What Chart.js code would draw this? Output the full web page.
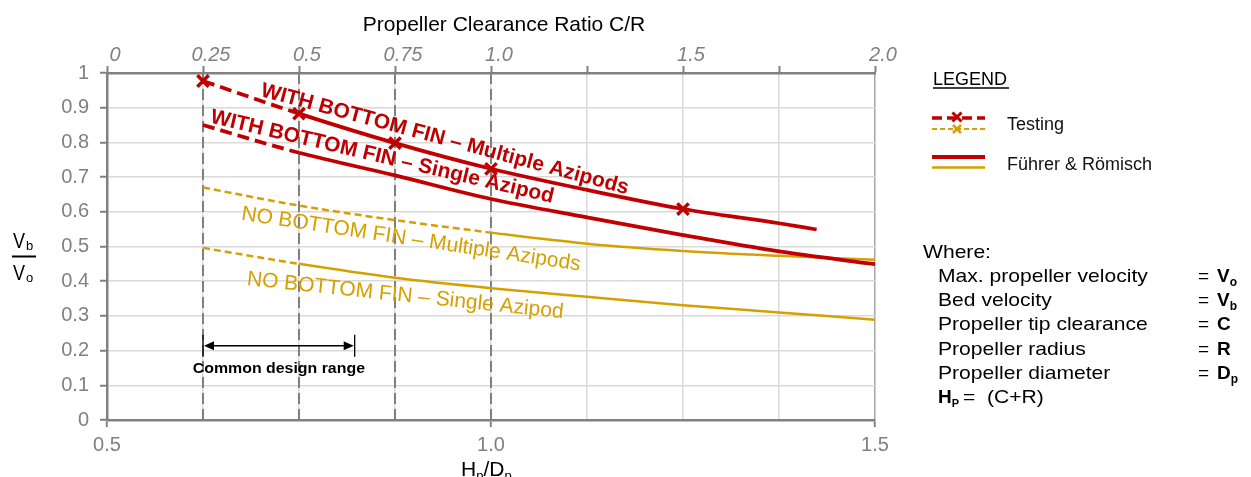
<!DOCTYPE html>
<html lang="en">
<head>
<meta charset="UTF-8">
<title>Bed velocity vs propeller clearance</title>
<script src="https://cdn.jsdelivr.net/npm/chart.js"></script>
<style>
  html, body { margin: 0; padding: 0; background: #fff; }
  #chart-container { position: relative; width: 1251px; height: 477px; }
</style>
</head>
<body>
<div id="chart-container"><canvas id="clearanceChart"></canvas></div>
<script>
// x = Hp/Dp, y = Vb/Vo
const hd = [0.625, 0.75, 0.875, 1.0, 1.125, 1.25, 1.375, 1.5];
const finMultiX = [0.625, 0.75, 0.875, 1.0, 1.125, 1.25, 1.375, 1.424];
const finMulti = [0.977, 0.883, 0.798, 0.724, 0.663, 0.608, 0.567, 0.549];
const finSingle = [0.850, 0.770, 0.705, 0.637, 0.584, 0.533, 0.486, 0.449];
const noFinMulti = [0.670, 0.618, 0.576, 0.540, 0.508, 0.487, 0.473, 0.462];
const noFinSingle = [0.496, 0.450, 0.410, 0.380, 0.355, 0.331, 0.310, 0.289];

// test results (crosses)
const testX = [0.625, 0.75, 0.875, 1.0, 1.25];
const testY = [0.977, 0.883, 0.798, 0.724, 0.608];

// the dashed (testing) part of each curve ends here
const dashEnd = [0.75, 0.75, 1.0, 0.75];

const designLines = [0.625, 0.75, 0.875, 1.0];
const designRange = [0.625, 0.8225];
const designRangeY = 0.214;

const bottomTicks = [0.5, 1.0, 1.5];
const bottomTickText = ['0.5', '1.0', '1.5'];
const topTicks = [0, 0.25, 0.5, 0.75, 1.0, 1.5, 2.0];
const topTickText = ['0', '0.25', '0.5', '0.75', '1.0', '1.5', '2.0'];

const curveNames = [
  'WITH BOTTOM FIN \u2013 Multiple Azipods',
  'WITH BOTTOM FIN \u2013 Single Azipod',
  'NO BOTTOM FIN \u2013 Multiple Azipods',
  'NO BOTTOM FIN \u2013 Single Azipod'
];

const whereRows = [
  ['Max. propeller velocity', 'V', 'o'],
  ['Bed velocity', 'V', 'b'],
  ['Propeller tip clearance', 'C', ''],
  ['Propeller radius', 'R', ''],
  ['Propeller diameter', 'D', 'p']
];

const RED = '#c00000';
const GOLD = '#d6a000';
const GREY = '#808080';
const FONT = '"Liberation Sans", Arial, sans-serif';

// label placement (start of baseline, in data units) and slope
const labelPos = [
  { x: 0.699, y: 0.934, angle: 15, color: RED, bold: true },
  { x: 0.6336, y: 0.857, angle: 13.2, color: RED, bold: true },
  { x: 0.674, y: 0.577, angle: 8.5, color: GOLD, bold: false },
  { x: 0.6815, y: 0.389, angle: 6, color: GOLD, bold: false }
];

const pts = (xs, ys) => xs.map((x, i) => ({ x: x, y: ys[i] }));

function curve(label, xs, ys, color, width, dash, end) {
  return {
    label: label,
    data: pts(xs, ys),
    borderColor: color,
    borderWidth: width,
    pointRadius: 0,
    fill: false,
    cubicInterpolationMode: 'monotone',
    segment: {
      borderDash: c => (c.p1.parsed.x <= end + 1e-6 ? dash : [])
    }
  };
}

function text(ctx, s, x, y, o) {
  ctx.save();
  ctx.font = o.font;
  ctx.fillStyle = o.color || '#000';
  ctx.textAlign = o.align || 'left';
  ctx.textBaseline = 'alphabetic';
  ctx.translate(x, y);
  if (o.angle) ctx.rotate(o.angle * Math.PI / 180);
  ctx.scale(o.sx || 1, 1);
  ctx.fillText(s, 0, 0);
  const w = ctx.measureText(s).width * (o.sx || 1);
  ctx.restore();
  return w;
}

function line(ctx, x1, y1, x2, y2, color, width, dash) {
  ctx.save();
  ctx.strokeStyle = color;
  ctx.lineWidth = width;
  ctx.setLineDash(dash || []);
  ctx.beginPath();
  ctx.moveTo(x1, y1);
  ctx.lineTo(x2, y2);
  ctx.stroke();
  ctx.restore();
}

function cross(ctx, x, y, r, color, width) {
  line(ctx, x - r, y - r, x + r, y + r, color, width);
  line(ctx, x - r, y + r, x + r, y - r, color, width);
}

const decor = {
  id: 'decor',
  beforeDatasetsDraw(chart) {
    const { ctx, chartArea: a, scales: { x } } = chart;
    designLines.forEach(v => {
      const px = Math.round(x.getPixelForValue(v));
      line(ctx, px, a.top, px, a.bottom, GREY, 2, [11, 5]);
    });
  },
  afterDatasetsDraw(chart) {
    const { ctx, scales: { x, y } } = chart;
    labelPos.forEach((p, i) => {
      text(ctx, curveNames[i], x.getPixelForValue(p.x), y.getPixelForValue(p.y), {
        font: (p.bold ? 'bold ' : '') + '21px ' + FONT,
        color: p.color,
        angle: p.angle
      });
    });

    // common design range arrow
    const x1 = x.getPixelForValue(designRange[0]);
    const x2 = x.getPixelForValue(designRange[1]);
    const ay = y.getPixelForValue(designRangeY);
    line(ctx, x1, ay - 11, x1, ay + 11, '#000', 1.3);
    line(ctx, x2, ay - 11, x2, ay + 11, '#000', 1.3);
    line(ctx, x1 + 4, ay, x2 - 4, ay, '#000', 1.3);
    ctx.save();
    ctx.fillStyle = '#000';
    ctx.beginPath();
    ctx.moveTo(x1 + 1, ay); ctx.lineTo(x1 + 11, ay - 4.5); ctx.lineTo(x1 + 11, ay + 4.5); ctx.closePath();
    ctx.moveTo(x2 - 1, ay); ctx.lineTo(x2 - 11, ay - 4.5); ctx.lineTo(x2 - 11, ay + 4.5); ctx.closePath();
    ctx.fill();
    ctx.restore();
    text(ctx, 'Common design range', (x1 + x2) / 2, ay + 27, {
      font: 'bold 15px ' + FONT, align: 'center', sx: 1.06
    });
  },
  afterDraw(chart) {
    const { ctx, chartArea: a } = chart;
    const mid = (a.left + a.right) / 2;

    // axis titles
    text(ctx, 'Propeller Clearance Ratio C/R', mid + 13, 31, { font: '21px ' + FONT, align: 'center' });

    let w = text(ctx, 'H', 461, 476, { font: '21px ' + FONT });
    w += text(ctx, 'p', 461 + w, 480, { font: '13px ' + FONT });
    w += text(ctx, '/D', 461 + w, 476, { font: '21px ' + FONT });
    text(ctx, 'p', 461 + w, 480, { font: '13px ' + FONT });

    text(ctx, 'V', 13, 248, { font: '22px ' + FONT, sx: 0.82 });
    text(ctx, 'b', 26, 250, { font: '13px ' + FONT });
    line(ctx, 12, 256.5, 36, 256.5, '#000', 2);
    text(ctx, 'V', 13, 280, { font: '22px ' + FONT, sx: 0.82 });
    text(ctx, 'o', 26, 282, { font: '13px ' + FONT });

    // legend
    const lf = '18px ' + FONT;
    text(ctx, 'LEGEND', 933, 85, { font: lf });
    line(ctx, 933, 88, 1009, 88, '#000', 1.5);
    line(ctx, 932, 118, 985, 118, RED, 3.5, [10, 5]);
    cross(ctx, 957, 117, 4.5, RED, 3);
    line(ctx, 932, 129, 985, 129, GOLD, 2, [5, 3]);
    cross(ctx, 957, 129, 4, GOLD, 2.5);
    text(ctx, 'Testing', 1007, 130, { font: lf, color: '#111' });
    line(ctx, 932, 157, 985, 157, RED, 4);
    line(ctx, 932, 167.5, 985, 167.5, GOLD, 2.5);
    text(ctx, 'F\u00fchrer & R\u00f6misch', 1007, 170, { font: lf, color: '#111' });

    // where block
    const wf = '19px ' + FONT;
    const bf = 'bold 19px ' + FONT;
    const sf = 'bold 12px ' + FONT;
    text(ctx, 'Where:', 923, 258, { font: wf, sx: 1.11 });
    whereRows.forEach((r, i) => {
      const by = 282 + i * 24.2;
      text(ctx, r[0], 938, by, { font: wf, sx: 1.11 });
      text(ctx, '=', 1198, by, { font: wf });
      const sw = text(ctx, r[1], 1217, by, { font: bf });
      if (r[2]) text(ctx, r[2], 1217 + sw, by + 4, { font: sf });
    });
    const hy = 282 + 5 * 24.2;
    const hw = text(ctx, 'H', 938, hy, { font: bf });
    text(ctx, 'P', 938 + hw, hy + 4, { font: 'bold 11px ' + FONT });
    text(ctx, '=  (C+R)', 963, hy, { font: wf, sx: 1.11 });
  }
};

const ctx = document.getElementById('clearanceChart').getContext('2d');
new Chart(ctx, {
  type: 'line',
  data: {
    datasets: [
      {
        label: 'Testing',
        data: pts(testX, testY),
        showLine: false,
        pointStyle: 'crossRot',
        pointRadius: 8,
        pointBorderWidth: 3.5,
        borderColor: RED,
        backgroundColor: RED
      },
      curve(curveNames[0], finMultiX, finMulti, RED, 3.75, [12, 6], dashEnd[0]),
      curve(curveNames[1], hd, finSingle, RED, 3.75, [12, 6], dashEnd[1]),
      curve(curveNames[2], hd, noFinMulti, GOLD, 2.5, [7, 4], dashEnd[2]),
      curve(curveNames[3], hd, noFinSingle, GOLD, 2.5, [7, 4], dashEnd[3])
    ]
  },
  options: {
    responsive: true,
    maintainAspectRatio: false,
    animation: false,
    devicePixelRatio: 1,
    layout: { padding: { left: 0, right: 376, top: 0, bottom: 0 } },
    plugins: { legend: { display: false }, tooltip: { enabled: false } },
    scales: {
      x: {
        type: 'linear',
        position: 'bottom',
        min: 0.5,
        max: 1.5,
        afterFit: s => { s.height = 57; },
        afterBuildTicks: s => {
          s.ticks = hd.slice().concat([0.5]).sort((a, b) => a - b).map(v => ({ value: v }));
        },
        ticks: {
          autoSkip: false,
          maxRotation: 0,
          color: GREY,
          padding: 6,
          font: { family: FONT, size: 20 },
          callback: v => {
            const i = bottomTicks.indexOf(v);
            return i >= 0 ? bottomTickText[i] : '';
          }
        },
        grid: {
          color: c => (c.tick && c.tick.value === 1.5 ? '#a6a6a6' : '#d9d9d9'),
          lineWidth: 1.5,
          tickLength: 7,
          tickWidth: 2,
          tickColor: c => (c.tick && bottomTicks.includes(c.tick.value) ? GREY : 'rgba(0,0,0,0)')
        },
        border: { color: GREY, width: 2.5 }
      },
      x2: {
        type: 'linear',
        position: 'top',
        min: 0,
        max: 2,
        afterFit: s => { s.height = 73; },
        ticks: {
          stepSize: 0.25,
          autoSkip: false,
          maxRotation: 0,
          color: GREY,
          padding: -1,
          labelOffset: 8,
          font: { family: FONT, size: 20, style: 'italic' },
          callback: v => {
            const i = topTicks.indexOf(v);
            return i >= 0 ? topTickText[i] : '';
          }
        },
        grid: {
          drawOnChartArea: false,
          tickLength: 7,
          tickWidth: 2,
          tickColor: GREY
        },
        border: { color: GREY, width: 2.5 }
      },
      y: {
        min: 0,
        max: 1,
        afterFit: s => { s.width = 107; },
        ticks: {
          stepSize: 0.1,
          color: GREY,
          padding: 11,
          font: { family: FONT, size: 20 },
          callback: v => String(Math.round(v * 10) / 10)
        },
        grid: {
          color: '#d9d9d9',
          lineWidth: 1.5,
          tickLength: 7,
          tickWidth: 2,
          tickColor: GREY
        },
        border: { color: GREY, width: 2.5 }
      }
    }
  },
  plugins: [decor]
});
</script>
</body>
</html>
